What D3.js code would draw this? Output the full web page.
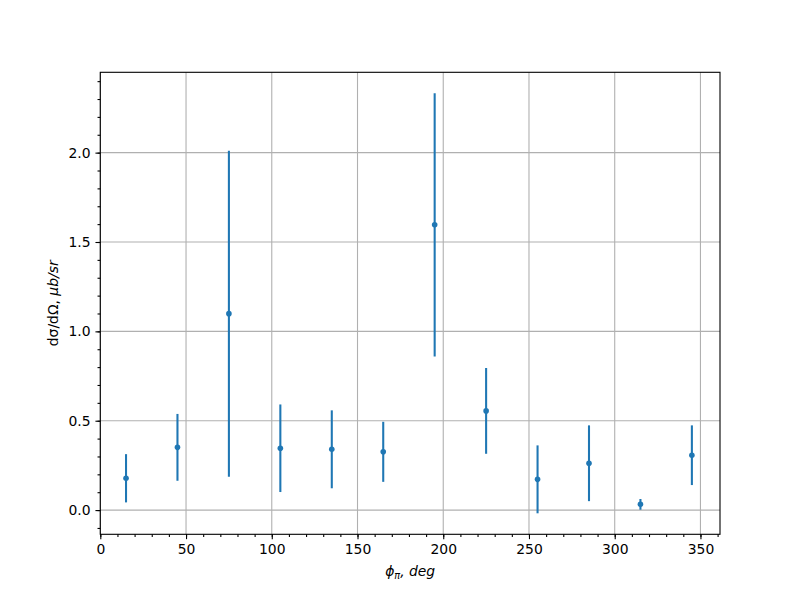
<!DOCTYPE html>
<html><head><meta charset="utf-8">
<script src="https://cdn.jsdelivr.net/npm/d3@7"></script>
<style>body{margin:0;background:#fff}svg{display:block}text{font-family:"DejaVu Sans",sans-serif}</style>
</head><body>
<svg id="chart" width="800" height="600"></svg>
<script>
const phi = [15, 45, 75, 105, 135, 165, 195, 225, 255, 285, 315, 345];
const values = [0.178, 0.351, 1.099, 0.346, 0.340, 0.326, 1.596, 0.555, 0.172, 0.262, 0.032, 0.307];
const errors = [0.135, 0.187, 0.912, 0.245, 0.218, 0.168, 0.736, 0.240, 0.190, 0.212, 0.030, 0.167];
const xTicks = [0, 50, 100, 150, 200, 250, 300, 350];
const yTicks = [0.0, 0.5, 1.0, 1.5, 2.0];

const W = 800, H = 600;
const m = {left: 100.3, right: 80, top: 72.3, bottom: 65.7};
const svg = d3.select("#chart");
const color = "#1f77b4";
const fs = 13.9;

const lo = d3.min(values, (v, i) => v - errors[i]);
const hi = d3.max(values, (v, i) => v + errors[i]);
const pad = (hi - lo) * 0.05;
const x = d3.scaleLinear().domain([0, 361.4]).range([m.left, W - m.right]);
const y = d3.scaleLinear().domain([lo - pad, hi + pad]).range([H - m.bottom, m.top]);

// grid
const g = svg.append("g");
g.selectAll(".gx").data(xTicks).join("line")
  .attr("x1", d => x(d)).attr("x2", d => x(d)).attr("y1", m.top).attr("y2", H - m.bottom)
  .attr("stroke", "#b0b0b0").attr("stroke-width", 1.1);
g.selectAll(".gy").data(yTicks).join("line")
  .attr("y1", d => y(d)).attr("y2", d => y(d)).attr("x1", m.left).attr("x2", W - m.right)
  .attr("stroke", "#b0b0b0").attr("stroke-width", 1.1);

// error bars
svg.append("g").selectAll("line").data(phi).join("line")
  .attr("x1", d => x(d)).attr("x2", d => x(d))
  .attr("y1", (d, i) => y(values[i] - errors[i])).attr("y2", (d, i) => y(values[i] + errors[i]))
  .attr("stroke", color).attr("stroke-width", 2.08);
svg.append("g").selectAll("circle").data(phi).join("circle")
  .attr("cx", d => x(d)).attr("cy", (d, i) => y(values[i])).attr("r", 2.8).attr("fill", color);

// axes
const xMinor = d3.range(0, 361, 10);
const yMinor = d3.range(-0.1, 2.45, 0.1).map(v => +v.toFixed(2));
const xAxis = d3.axisBottom(x).tickValues(xTicks).tickFormat(d3.format("d")).tickSizeOuter(0).tickSize(4.86).tickPadding(4.86);
const xAxisMinor = d3.axisBottom(x).tickValues(xMinor).tickFormat("").tickSizeOuter(0).tickSize(2.78);
const yAxis = d3.axisLeft(y).tickValues(yTicks).tickFormat(d3.format(".1f")).tickSizeOuter(0).tickSize(4.86).tickPadding(4.86);
const yAxisMinor = d3.axisLeft(y).tickValues(yMinor).tickFormat("").tickSizeOuter(0).tickSize(2.78);

function style(sel) {
  sel.select(".domain").remove();
  sel.selectAll("line").attr("stroke", "#000").attr("stroke-width", 1.1);
  sel.selectAll("text").attr("font-size", fs).attr("fill", "#000").attr("font-family", "DejaVu Sans");
}
svg.append("g").attr("transform", `translate(0,${H - m.bottom})`).call(xAxisMinor).call(style);
svg.append("g").attr("transform", `translate(0,${H - m.bottom})`).call(xAxis).call(style);
svg.append("g").attr("transform", `translate(${m.left},0)`).call(yAxisMinor).call(style);
svg.append("g").attr("transform", `translate(${m.left},0)`).call(yAxis).call(style);

// frame
svg.append("rect").attr("x", m.left).attr("y", m.top)
  .attr("width", W - m.right - m.left).attr("height", H - m.bottom - m.top)
  .attr("fill", "none").attr("stroke", "#000").attr("stroke-width", 1.1);

// labels
const xl = svg.append("text").attr("x", (m.left + W - m.right) / 2).attr("y", 576)
  .attr("text-anchor", "middle").attr("font-size", fs).attr("font-style", "italic");
xl.append("tspan").text("ϕ");
xl.append("tspan").attr("font-size", fs * 0.7).attr("dy", 3).text("π");
xl.append("tspan").attr("dy", -3).text(", deg");

const yl = svg.append("text").attr("transform", `translate(58,${(m.top + H - m.bottom) / 2}) rotate(-90)`)
  .attr("text-anchor", "middle").attr("font-size", fs);
yl.append("tspan").text("dσ/dΩ, ");
yl.append("tspan").attr("font-style", "italic").text("μb/sr");
</script>
</body></html>
